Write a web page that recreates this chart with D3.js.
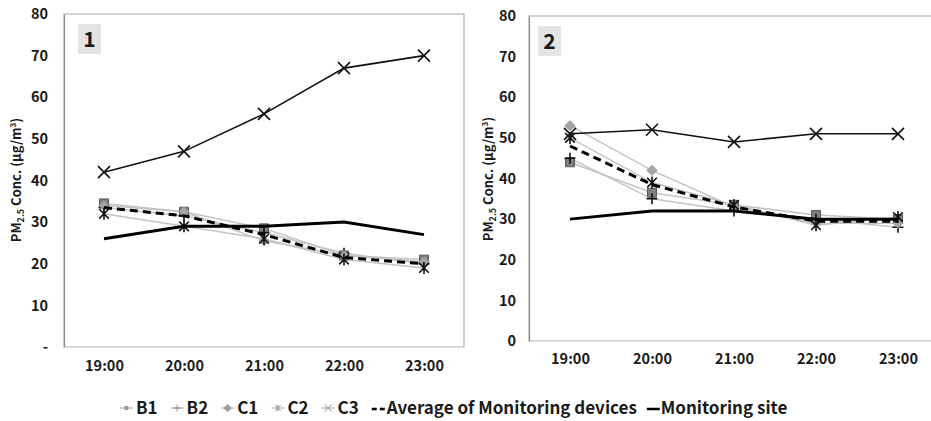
<!DOCTYPE html>
<html>
<head>
<meta charset="utf-8">
<script src="https://cdn.jsdelivr.net/npm/d3@7/dist/d3.min.js"></script>
<style>
  html, body { margin: 0; padding: 0; background: #fff; }
  svg { display: block; }
  text { font-family: "Noto Sans CJK KR", "Noto Sans", sans-serif; font-weight: bold; fill: #1a1a1a; }
</style>
</head>
<body>
<svg id="chart" width="931" height="421"></svg>
<script>
// Hours on the x axis and the y tick values shared by both panels
const hours = ["19:00", "20:00", "21:00", "22:00", "23:00"];
const yTicks = [0, 10, 20, 30, 40, 50, 60, 70, 80];

// Panel 1 – PM2.5 (µg/m³)
const p1B1 = [34.5, 32.5, 28.5, 22, 21];
const p1B2 = [33.5, 31.5, 27.5, 22.5, 20];
const p1C1 = [34, 32.5, 25.5, 22, 20.5];
const p1C2 = [32, 29, 26, 21, 19];
const p1C3 = [42, 47, 56, 67, 70];
const p1Avg = [33.5, 31.5, 27, 21.5, 20];
const p1Site = [26, 29, 29, 30, 27];

// Panel 2 – PM2.5 (µg/m³)
const p2B1 = [44, 36.5, 33.5, 31, 30];
const p2B2 = [45, 35, 32, 30, 28];
const p2C1 = [53, 42, 33, 29, 29];
const p2C2 = [50, 39, 33.5, 28.5, 30.5];
const p2C3 = [51, 52, 49, 51, 51];
const p2Avg = [48, 38.5, 33, 29.5, 29.5];
const p2Site = [30, 32, 32, 30, 30];

// Legend entries
const deviceNames = ["B1", "B2", "C1", "C2", "C3"];
const avgName = "Average of Monitoring devices";
const siteName = "Monitoring site";

const svg = d3.select("#chart");

// Marker glyphs
function markerPath(type, s) {
  const p = d3.path();
  const h = s / 2;
  if (type === "square") {
    p.rect(-h, -h, s, s);
  } else if (type === "diamond") {
    p.moveTo(0, -h); p.lineTo(h, 0); p.lineTo(0, h); p.lineTo(-h, 0); p.closePath();
  } else if (type === "plus") {
    p.moveTo(-h, 0); p.lineTo(h, 0); p.moveTo(0, -h); p.lineTo(0, h);
  } else if (type === "asterisk") {
    const d = h * 0.8;
    p.moveTo(-d, -d); p.lineTo(d, d); p.moveTo(-d, d); p.lineTo(d, -d);
    p.moveTo(0, -h); p.lineTo(0, h);
  } else if (type === "x") {
    p.moveTo(-h, -h); p.lineTo(h, h); p.moveTo(-h, h); p.lineTo(h, -h);
  }
  return p.toString();
}

const markerStyle = {
  square:   { size: 9,  fill: "#7f7f7f", stroke: "#5a5a5a", width: 1 },
  plus:     { size: 11, fill: "none",    stroke: "#111",    width: 1.6 },
  diamond:  { size: 10, fill: "#a5a5a5", stroke: "#959595", width: 1 },
  asterisk: { size: 12, fill: "none",    stroke: "#111",    width: 1.6 },
  x:        { size: 12, fill: "none",    stroke: "#111",    width: 1.6 }
};
const deviceMarkers = ["square", "plus", "diamond", "asterisk", "x"];

function drawPanel(cfg) {
  const g = svg.append("g");
  const x = d3.scalePoint().domain(hours).range([cfg.left, cfg.right]).padding(0.5);
  const y = d3.scaleLinear().domain([0, 80]).range([cfg.bottom, cfg.top]);

  // plot frame
  g.append("rect")
    .attr("x", cfg.left).attr("y", cfg.top)
    .attr("width", cfg.right - cfg.left).attr("height", cfg.bottom - cfg.top)
    .attr("fill", "none").attr("stroke", "#a6a6a6").attr("stroke-width", 1);

  // y axis
  const ya = g.append("g")
    .attr("transform", `translate(${cfg.left},0)`)
    .call(d3.axisLeft(y).tickValues(yTicks).tickSize(0).tickPadding(cfg.tickPad)
      .tickFormat(cfg.zeroLabel));
  ya.select(".domain").attr("stroke", "#8c8c8c").attr("stroke-width", 1.2);
  ya.selectAll("text").style("font-size", "14.5px").style("font-family", '"Noto Sans CJK KR", sans-serif')
    .style("font-weight", "bold").attr("fill", "#1a1a1a");

  // x axis
  const xa = g.append("g")
    .attr("transform", `translate(0,${cfg.bottom})`)
    .call(d3.axisBottom(x).tickSize(0).tickPadding(cfg.xPad));
  xa.select(".domain").attr("stroke", "#e0e0e0").attr("stroke-width", 1);
  xa.selectAll("text").style("font-size", "14.5px").style("font-family", '"Noto Sans CJK KR", sans-serif')
    .style("font-weight", "bold").attr("fill", "#1a1a1a");

  // y axis title
  const t = g.append("text")
    .attr("transform", `translate(${cfg.titleX},${cfg.titleY}) rotate(-90)`)
    .attr("text-anchor", "middle")
    .style("font-size", "13px");
  t.append("tspan").text("PM");
  t.append("tspan").text("2.5").style("font-size", "9px").attr("dy", 3);
  t.append("tspan").text(" Conc. (μg/m").attr("dy", -3);
  t.append("tspan").text("3").style("font-size", "8px").attr("dy", -5);
  t.append("tspan").text(")").attr("dy", 5);

  // panel number
  g.append("rect").attr("x", cfg.boxX).attr("y", cfg.top + 10)
    .attr("width", 23).attr("height", 30).attr("fill", "#e4e4e4");
  g.append("text").attr("x", cfg.boxX + 11.5).attr("y", cfg.top + 33)
    .attr("text-anchor", "middle").style("font-size", "21px").text(cfg.label);

  const line = d3.line().x((d, i) => x(hours[i])).y(d => y(d));

  // individual device lines (B1..C2 in light grey)
  cfg.devices.slice(0, 4).forEach(vals => {
    g.append("path").attr("d", line(vals)).attr("fill", "none")
      .attr("stroke", "#c4c4c4").attr("stroke-width", 1.5);
  });
  cfg.devices.slice(0, 4).forEach((vals, k) => {
    const st = markerStyle[deviceMarkers[k]];
    g.selectAll(null).data(vals).join("path")
      .attr("transform", (d, i) => `translate(${x(hours[i])},${y(d)})`)
      .attr("d", markerPath(deviceMarkers[k], st.size))
      .attr("fill", st.fill).attr("stroke", st.stroke).attr("stroke-width", st.width);
  });

  // average of devices
  g.append("path").attr("d", line(cfg.avg)).attr("fill", "none")
    .attr("stroke", "#000").attr("stroke-width", 3).attr("stroke-dasharray", "8,5");

  // monitoring site
  g.append("path").attr("d", line(cfg.site)).attr("fill", "none")
    .attr("stroke", "#000").attr("stroke-width", 3);

  // C3
  const c3 = cfg.devices[4];
  g.append("path").attr("d", line(c3)).attr("fill", "none")
    .attr("stroke", "#111").attr("stroke-width", 1.6);
  const st = markerStyle.x;
  g.selectAll(null).data(c3).join("path")
    .attr("transform", (d, i) => `translate(${x(hours[i])},${y(d)})`)
    .attr("d", markerPath("x", st.size))
    .attr("fill", "none").attr("stroke", st.stroke).attr("stroke-width", st.width);
}

drawPanel({
  left: 64, right: 464, top: 14, bottom: 347,
  tickPad: 16, xPad: 14, titleX: 21, titleY: 180, boxX: 78, label: "1",
  zeroLabel: d => d === 0 ? "-" : d,
  devices: [p1B1, p1B2, p1C1, p1C2, p1C3], avg: p1Avg, site: p1Site
});

drawPanel({
  left: 529, right: 939, top: 16, bottom: 341,
  tickPad: 13, xPad: 13, titleX: 493, titleY: 179, boxX: 538, label: "2",
  zeroLabel: d => d,
  devices: [p2B1, p2B2, p2C1, p2C2, p2C3], avg: p2Avg, site: p2Site
});

// Legend
const lg = svg.append("g");
const ly = 408;
let cx = 120;
deviceNames.forEach((name, k) => {
  lg.append("line").attr("x1", cx).attr("x2", cx + 13).attr("y1", ly).attr("y2", ly)
    .attr("stroke", "#a0a0a0").attr("stroke-width", 1);
  lg.append("path").attr("transform", `translate(${cx + 6.5},${ly})`)
    .attr("d", markerPath(deviceMarkers[k], deviceMarkers[k] === "square" ? 3 : 7))
    .attr("fill", "#a0a0a0").attr("stroke", "#909090").attr("stroke-width", 1);
  const t = lg.append("text").attr("x", cx + 16).attr("y", ly + 6).style("font-size", "17px").text(name);
  cx += 16 + t.node().getComputedTextLength() + 13;
});
lg.append("line").attr("x1", cx).attr("x2", cx + 13).attr("y1", ly + 1).attr("y2", ly + 1)
  .attr("stroke", "#000").attr("stroke-width", 2.5).attr("stroke-dasharray", "5,3");
let ta = lg.append("text").attr("x", cx + 15).attr("y", ly + 6).style("font-size", "17px").text(avgName);
cx += 15 + ta.node().getComputedTextLength() + 10;
lg.append("line").attr("x1", cx).attr("x2", cx + 13).attr("y1", ly + 1).attr("y2", ly + 1)
  .attr("stroke", "#000").attr("stroke-width", 2.5);
lg.append("text").attr("x", cx + 14).attr("y", ly + 6).style("font-size", "17px").text(siteName);
</script>
</body>
</html>
